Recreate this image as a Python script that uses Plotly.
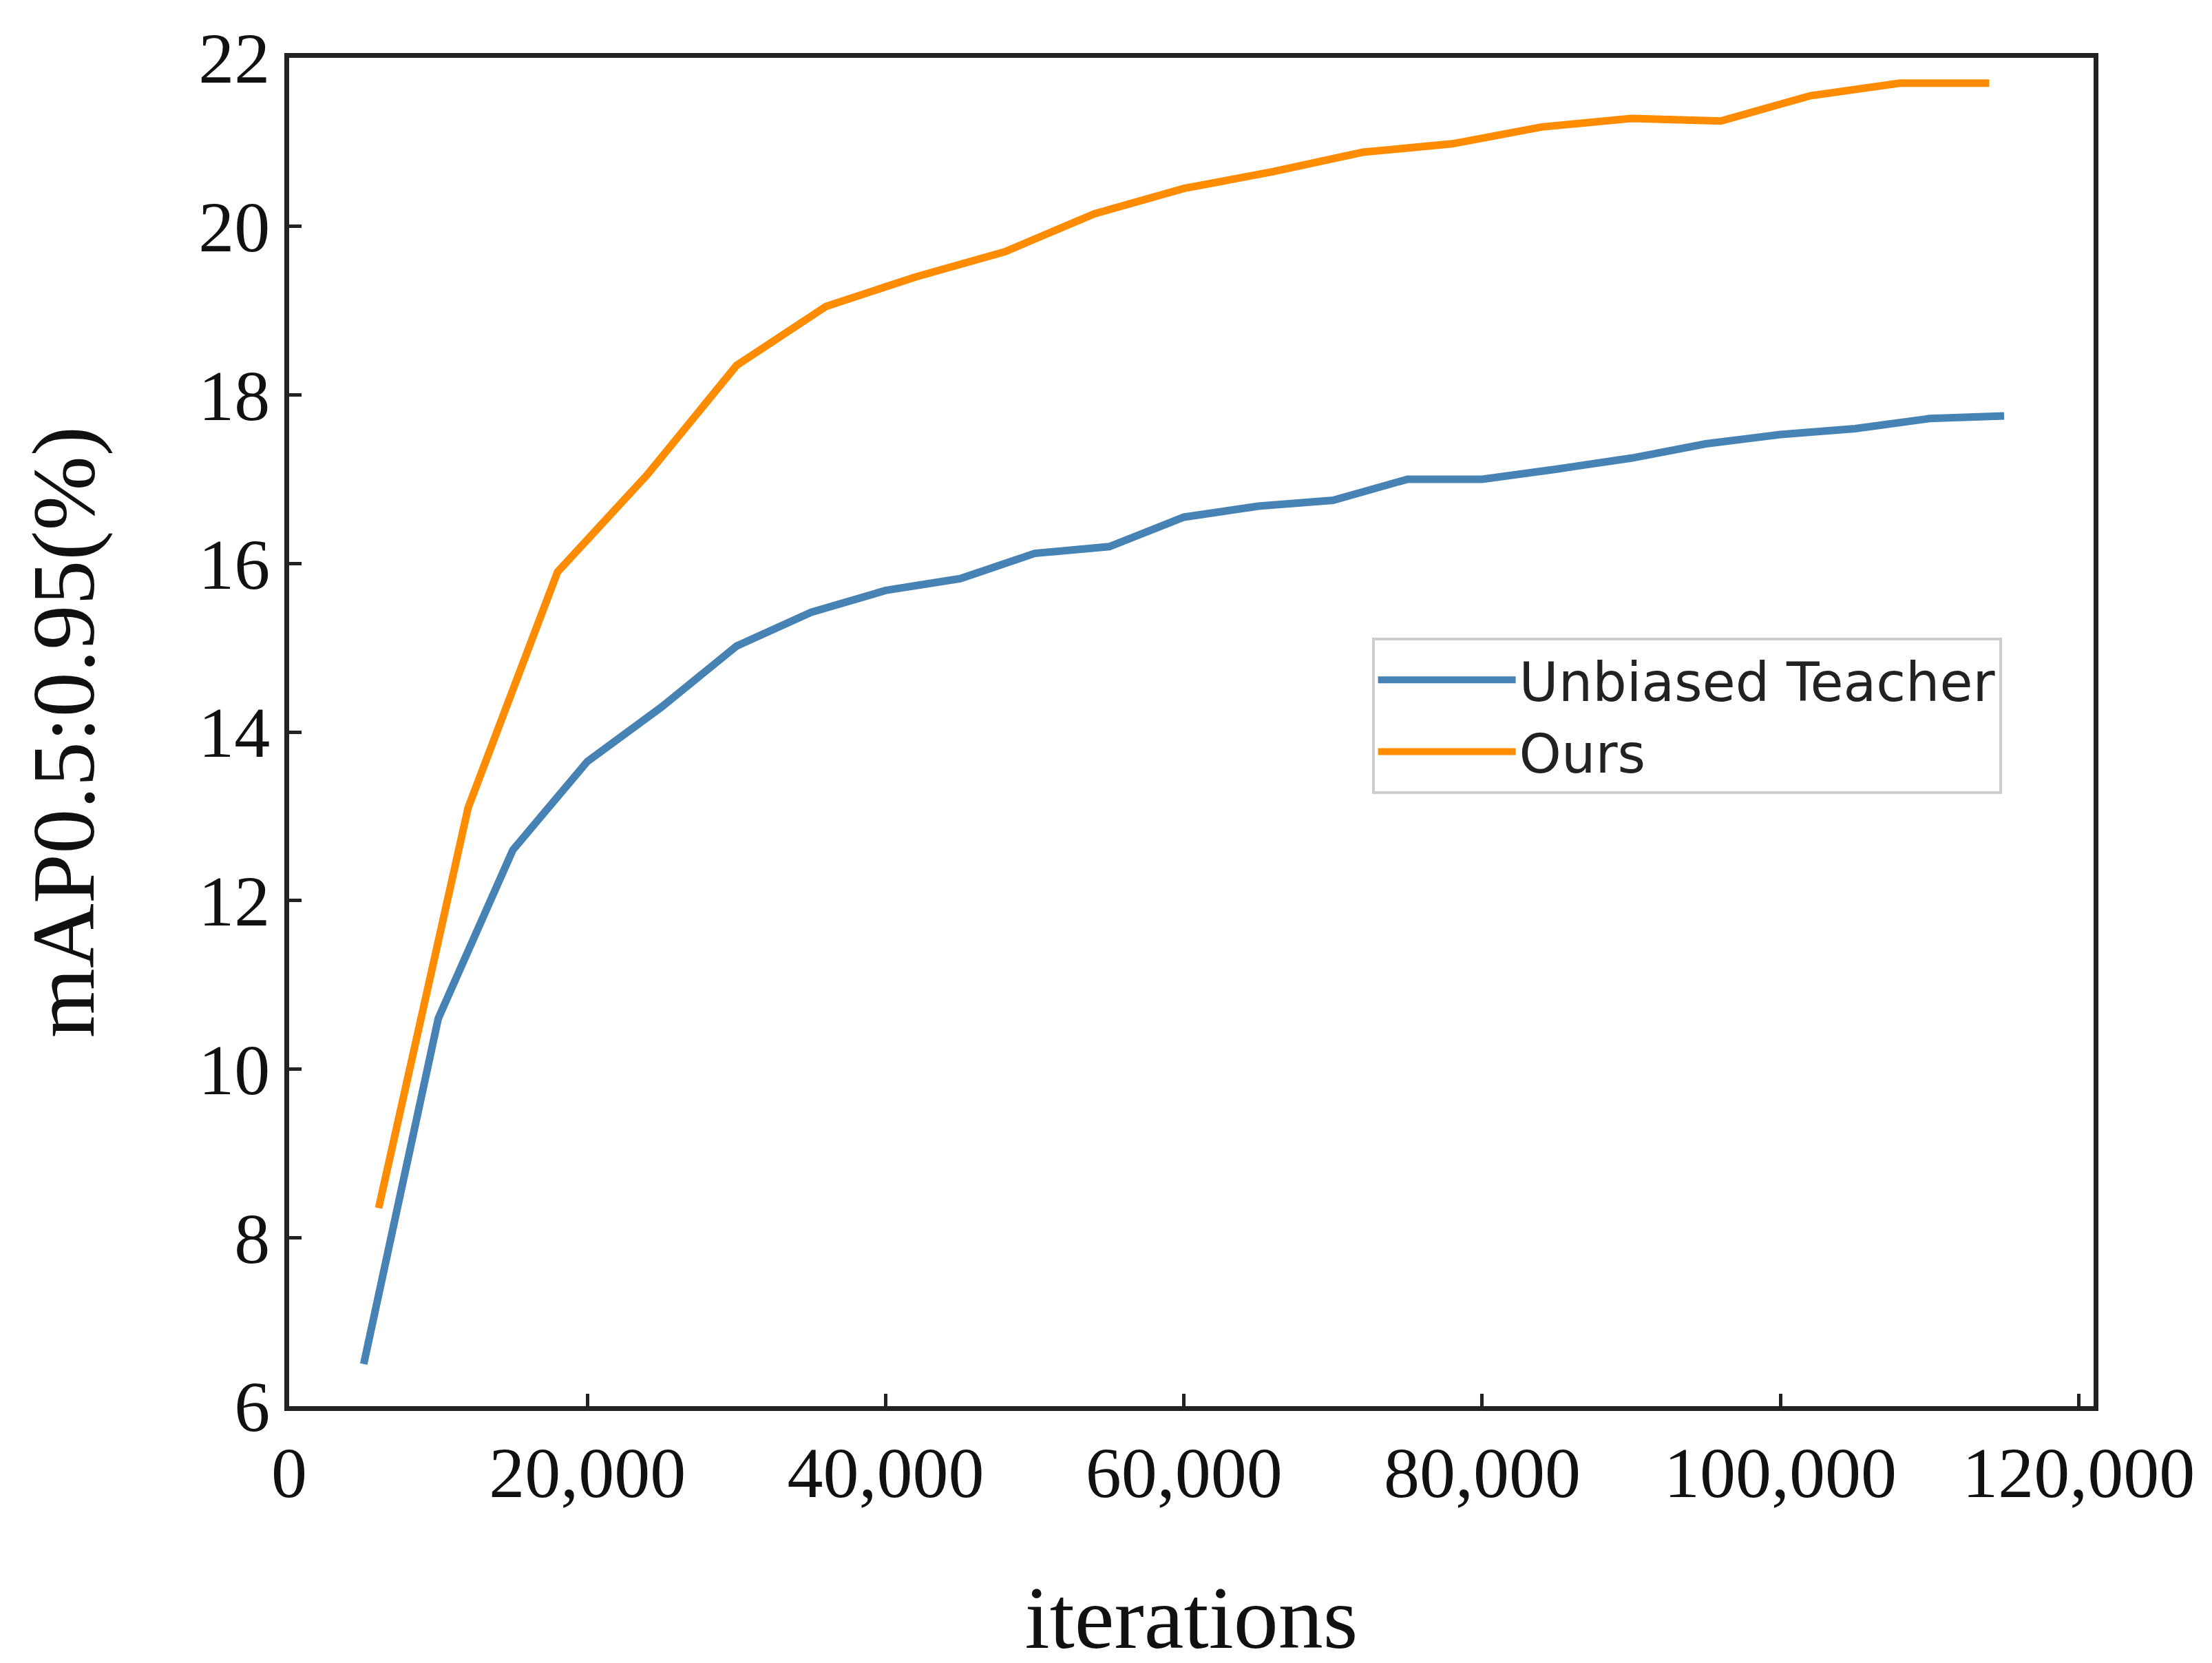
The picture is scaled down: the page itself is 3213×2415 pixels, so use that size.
import plotly.graph_objects as go

ub_x = [5000, 10000, 15000, 20000, 25000, 30000, 35000, 40000, 45000, 50000, 55000, 60000,
        65000, 70000, 75000, 80000, 85000, 90000, 95000, 100000, 105000, 110000, 115000]
ub_y = [6.5, 10.6, 12.6, 13.65, 14.3, 15.02, 15.42, 15.68, 15.82, 16.12, 16.2, 16.55,
        16.68, 16.75, 17.0, 17.0, 17.12, 17.25, 17.42, 17.53, 17.6, 17.72, 17.75]
ours_x = [6000, 12000, 18000, 24000, 30000, 36000, 42000, 48000, 54000, 60000,
          66000, 72000, 78000, 84000, 90000, 96000, 102000, 108000, 114000]
ours_y = [8.35, 13.1, 15.9, 17.05, 18.35, 19.05, 19.4, 19.7, 20.15, 20.45,
          20.65, 20.88, 20.98, 21.18, 21.28, 21.25, 21.55, 21.7, 21.7]

serif = "Liberation Serif"
fig = go.Figure()
fig.add_trace(go.Scatter(x=ub_x, y=ub_y, mode="lines", name="Unbiased Teacher",
                         line=dict(color="#4682b4", width=11)))
fig.add_trace(go.Scatter(x=ours_x, y=ours_y, mode="lines", name="Ours",
                         line=dict(color="#ff8c00", width=11)))

axis_common = dict(showline=True, mirror=True, linecolor="#222", linewidth=7,
                   ticks="inside", ticklen=18, tickwidth=5, tickcolor="#222",
                   showgrid=False, zeroline=False,
                   tickfont=dict(family=serif, size=104, color="#111"))
fig.update_xaxes(range=[0, 121000], tickvals=[0, 20000, 40000, 60000, 80000, 100000, 120000],
                 tickformat=",d", title=dict(text="iterations", standoff=110,
                 font=dict(family=serif, size=130, color="#111")), **axis_common)
fig.update_yaxes(range=[6, 22], dtick=2, title=dict(text="mAP0.5:0.95(%)", standoff=110,
                 font=dict(family=serif, size=130, color="#111")), **axis_common)

fig.update_layout(
    width=3213, height=2415, plot_bgcolor="white", paper_bgcolor="white",
    margin=dict(l=412, r=180, t=76, b=381),
    legend=dict(x=0.60, y=0.57, xanchor="left", yanchor="top",
                font=dict(family="DejaVu Sans", size=78, color="#222"),
                bordercolor="#ccc", borderwidth=4, bgcolor="white",
                itemwidth=200, tracegroupgap=10),
)
fig.write_html("out.html")
